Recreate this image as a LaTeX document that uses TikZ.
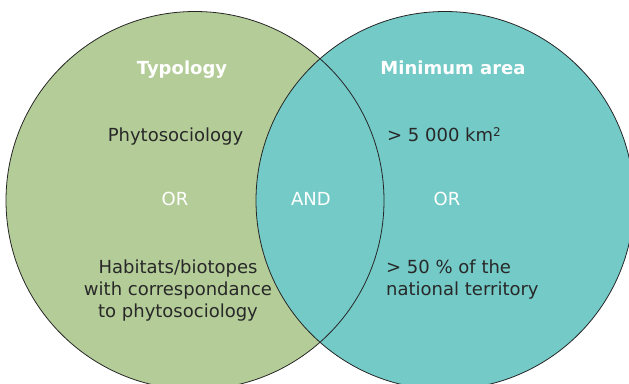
\documentclass[tikz,border=0pt]{standalone}
\usepackage{fontspec}
\setmainfont{DejaVu Sans}
\definecolor{leafgreen}{RGB}{180,205,152}
\definecolor{tealfill}{RGB}{115,202,199}
\definecolor{inktext}{RGB}{40,40,40}
\begin{document}
\begin{tikzpicture}[x=1pt,y=-1pt,
  body/.style={font=\fontsize{18}{22}\selectfont, text=inktext, anchor=base, inner sep=0pt, align=center},
  head/.style={font=\fontsize{18}{22}\selectfont\bfseries, text=white, anchor=base, inner sep=0pt},
  joiner/.style={font=\fontsize{18}{22}\selectfont, text=white, anchor=base, inner sep=0pt},
  rim/.style={draw=black!85, line width=0.8pt}]
\useasboundingbox (0,0) rectangle (629,383);
\clip (0,0) rectangle (629,383);
\fill[leafgreen] (195,200.5) circle[radius=189];
\fill[tealfill] (445,200.5) circle[radius=189];
\draw[rim] (195,200.5) circle[radius=189];
\draw[rim] (445,200.5) circle[radius=189];
\node[head] (typ) at (182,74) {Typology};
\node[head] (mina) at (453,74) {Minimum area};
\node[body] (phy) at (175.5,141) {Phytosociology};
\node[body] (km) at (444,141) {> 5 000 km{\fontsize{12}{12}\selectfont\raisebox{5pt}{2}}};
\node[joiner] (orl) at (175,205) {OR};
\node[joiner] (and) at (311,205) {AND};
\node[joiner] (orr) at (447,205) {OR};
\node[body] (hab) at (178,317) {Habitats/biotopes\\with correspondance\\to phytosociology};
\node[body, align=left, anchor=base west] (nat) at (386,295) {> 50 \% of the\\national territory};
\end{tikzpicture}
\end{document}
